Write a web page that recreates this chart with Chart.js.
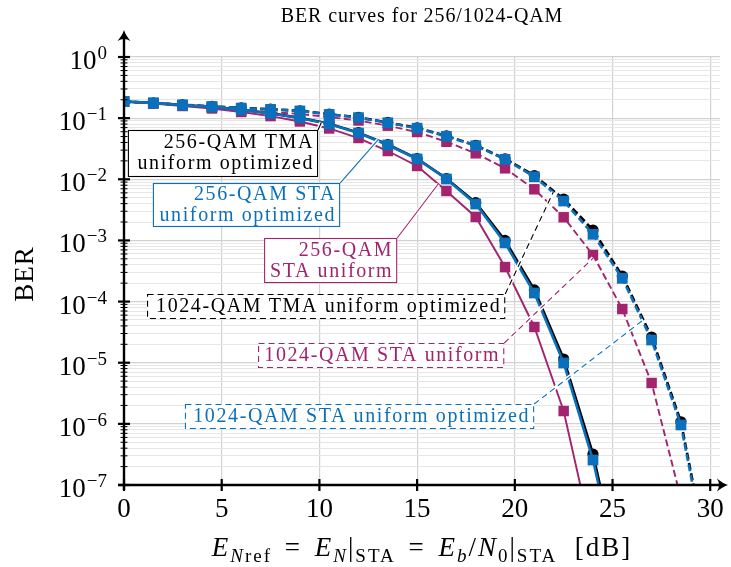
<!DOCTYPE html>
<html>
<head>
<meta charset="utf-8">
<script src="https://cdn.jsdelivr.net/npm/chart.js@4"></script>
<style>
  html, body { margin: 0; padding: 0; background: #fff; }
  #wrap { width: 731px; height: 567px; position: relative; }
</style>
</head>
<body>
<div id="wrap"><canvas id="ber"></canvas></div>
<script>
// Eb/N0 grid of the simulation points [dB]
var snr = [0, 1.5, 3, 4.5, 6, 7.5, 9, 10.5, 12, 13.5, 15, 16.5, 18, 19.5, 21, 22.5, 24, 25.5, 27, 28.5, 30];

// 256-QAM curves
var ber256TmaOpt = [0.187, 0.177, 0.164, 0.152, 0.137, 0.120, 0.101, 0.081, 0.058, 0.037, 0.0218, 0.0103, 0.00415, 0.00100, 1.55e-4, 1.15e-5, 3.2e-7, 2.4e-9];
var ber256StaOpt = [0.187, 0.177, 0.164, 0.152, 0.136, 0.119, 0.1005, 0.080, 0.057, 0.0364, 0.0215, 0.0101, 0.00394, 9.1e-4, 1.38e-4, 9.9e-6, 2.56e-7, 1.9e-9];
var ber256StaUni = [0.187, 0.174, 0.158, 0.144, 0.126, 0.108, 0.0882, 0.0678, 0.0473, 0.029, 0.0165, 0.00643, 0.00242, 3.67e-4, 3.84e-5, 1.62e-6, 1.2e-8];

// 1024-QAM curves
var ber1024TmaOpt = [0.187, 0.177, 0.165, 0.156, 0.147, 0.140, 0.132, 0.116, 0.103, 0.085, 0.0695, 0.0512, 0.036, 0.0216, 0.0115, 0.00475, 0.00148, 2.62e-4, 2.63e-5, 1.08e-6, 4e-9];
var ber1024StaOpt = [0.187, 0.177, 0.164, 0.155, 0.146, 0.139, 0.131, 0.115, 0.102, 0.084, 0.0684, 0.0504, 0.0354, 0.0212, 0.0110, 0.00441, 0.00126, 2.40e-4, 2.35e-5, 9.6e-7, 3.4e-9];
var ber1024StaUni = [0.187, 0.174, 0.161, 0.149, 0.136, 0.126, 0.117, 0.104, 0.0915, 0.0752, 0.0593, 0.0411, 0.0266, 0.0151, 0.00686, 0.00239, 5.78e-4, 7.55e-5, 4.66e-6, 6e-8];

// axis ticks
var xTicks = [0, 5, 10, 15, 20, 25, 30];
var yDecades = [-7, -6, -5, -4, -3, -2, -1, 0];

var BLUE = '#0b70bb';
var MAGENTA = '#a3236f';
var BLACK = '#000000';
var SERIF = '"Liberation Serif", "DejaVu Serif", serif';

function pairs(vals) {
  return vals.map(function (v, i) { return { x: snr[i], y: v }; });
}

function yTickValues() {
  var out = [];
  yDecades.forEach(function (e) {
    if (e === 0) { out.push(1); return; }
    for (var m = 1; m <= 9; m++) out.push(m * Math.pow(10, e));
  });
  return out;
}

function isDecade(v) {
  var l = Math.log10(v);
  return Math.abs(l - Math.round(l)) < 1e-6;
}

// text boxes with their pointer lines (box: x0, yTop, x1, yBottom in data units)
var notes = [
  { lines: ['256-QAM TMA', 'uniform optimized'], color: BLACK, dashed: false, box: [0.2, 0.064, 9.93, 0.0109], target: [10.1, 0.085] },
  { lines: ['256-QAM STA', 'uniform optimized'], color: BLUE, dashed: false, box: [1.48, 0.00869, 11.06, 0.00166], target: [13.0, 0.044] },
  { lines: ['256-QAM', 'STA uniform'], color: MAGENTA, dashed: false, box: [7.17, 0.001096, 13.98, 0.000201], target: [16.08, 0.00838] },
  { lines: ['1024-QAM TMA uniform optimized'], color: BLACK, dashed: true, box: [1.18, 1.33e-4, 19.51, 5.19e-5], target: [21.97, 0.0062] },
  { lines: ['1024-QAM STA uniform'], color: MAGENTA, dashed: true, box: [6.86, 2.10e-5, 19.46, 8.18e-6], target: [24.01, 5.15e-4] },
  { lines: ['1024-QAM STA uniform optimized'], color: BLUE, dashed: true, box: [3.12, 2.11e-6, 20.99, 8.24e-7], target: [26.57, 5.0e-5] }
];

var xTitleParts = [
  ['E', 'mi'], ['N', 'si'], ['ref', 's'], [' = ', 'm'], ['E', 'mi'], ['N', 'si'], ['|', 'm'], ['STA', 's'],
  [' = ', 'm'], ['E', 'mi'], ['b', 'si'], ['/', 'm'], ['N', 'mi'], ['0', 's'], ['|', 'm'], ['STA', 's'], ['  [dB]', 'm']
];

function spacing(ctx, px) {
  if ('letterSpacing' in ctx) ctx.letterSpacing = px + 'px';
}

function arrowHead(ctx, x, y, angle) {
  ctx.save();
  ctx.translate(x, y);
  ctx.rotate(angle);
  ctx.beginPath();
  ctx.moveTo(0, 0);
  ctx.quadraticCurveTo(-5, -1.5, -11, -6.5);
  ctx.quadraticCurveTo(-7, 0, -11, 6.5);
  ctx.quadraticCurveTo(-5, 1.5, 0, 0);
  ctx.closePath();
  ctx.fill();
  ctx.restore();
}

var overlay = {
  id: 'overlay',
  afterDraw: function (chart) {
    var ctx = chart.ctx;
    var xs = chart.scales.x;
    var ys = chart.scales.y;
    var a = chart.chartArea;

    ctx.save();

    // annotation boxes
    notes.forEach(function (n) {
      var bx0 = xs.getPixelForValue(n.box[0]);
      var by0 = ys.getPixelForValue(n.box[1]);
      var bx1 = xs.getPixelForValue(n.box[2]);
      var by1 = ys.getPixelForValue(n.box[3]);
      var tx = xs.getPixelForValue(n.target[0]);
      var ty = ys.getPixelForValue(n.target[1]);

      ctx.setLineDash([]);
      ctx.strokeStyle = '#ffffff';
      ctx.lineWidth = 4;
      ctx.beginPath(); ctx.moveTo(bx1, by0); ctx.lineTo(tx, ty); ctx.stroke();
      ctx.strokeStyle = n.color;
      ctx.lineWidth = 1.1;
      ctx.setLineDash(n.dashed ? [6, 4] : []);
      ctx.beginPath(); ctx.moveTo(bx1, by0); ctx.lineTo(tx, ty); ctx.stroke();

      ctx.fillStyle = '#ffffff';
      ctx.fillRect(bx0, by0, bx1 - bx0, by1 - by0);
      ctx.setLineDash(n.dashed ? [6, 4] : []);
      ctx.strokeRect(bx0 + 0.5, by0 + 0.5, bx1 - bx0 - 1, by1 - by0 - 1);
      ctx.setLineDash([]);

      ctx.fillStyle = n.color;
      ctx.font = '20px ' + SERIF;
      spacing(ctx, 1.6);
      ctx.textAlign = 'right';
      ctx.textBaseline = 'alphabetic';
      var h = by1 - by0;
      var first = by0 + (h - n.lines.length * 21) / 2 + 16;
      n.lines.forEach(function (t, i) {
        ctx.fillText(t, bx1 - 4, first + i * 21);
      });
      spacing(ctx, 0);
    });

    // axes with arrows
    ctx.strokeStyle = '#000';
    ctx.fillStyle = '#000';
    ctx.lineWidth = 2.4;
    ctx.beginPath();
    ctx.moveTo(a.left - 6, a.bottom);
    ctx.lineTo(a.right + 3, a.bottom);
    ctx.stroke();
    arrowHead(ctx, a.right + 8, a.bottom, 0);
    ctx.beginPath();
    ctx.moveTo(a.left, a.bottom + 5);
    ctx.lineTo(a.left, a.top - 22);
    ctx.stroke();
    arrowHead(ctx, a.left, a.top - 27, -Math.PI / 2);

    // ticks
    yTickValues().forEach(function (v) {
      var py = ys.getPixelForValue(v);
      var major = isDecade(v);
      ctx.lineWidth = major ? 2.2 : 1;
      var half = major ? 6 : 3.5;
      ctx.beginPath();
      ctx.moveTo(a.left - half, py);
      ctx.lineTo(a.left + half, py);
      ctx.stroke();
    });
    xTicks.forEach(function (v) {
      var px = xs.getPixelForValue(v);
      ctx.lineWidth = 2.2;
      ctx.beginPath();
      ctx.moveTo(px, a.bottom - 6);
      ctx.lineTo(px, a.bottom + 6);
      ctx.stroke();
    });

    // tick labels
    ctx.fillStyle = '#000';
    ctx.textBaseline = 'alphabetic';
    yDecades.forEach(function (e) {
      var py = ys.getPixelForValue(Math.pow(10, e));
      var exp = e === 0 ? '0' : '\u2212' + (-e);
      var right = a.left - 17;
      ctx.textAlign = 'right';
      ctx.font = '19px ' + SERIF;
      var ew = ctx.measureText(exp).width;
      ctx.fillText(exp, right, py + 2);
      ctx.font = '27px ' + SERIF;
      ctx.fillText('10', right - ew - 1, py + 12);
    });
    ctx.textAlign = 'center';
    ctx.font = '27px ' + SERIF;
    xTicks.forEach(function (v) {
      ctx.fillText(String(v), xs.getPixelForValue(v), a.bottom + 32);
    });

    // axis titles
    ctx.save();
    ctx.translate(33, (a.top + a.bottom) / 2 + 3);
    ctx.rotate(-Math.PI / 2);
    ctx.textAlign = 'center';
    ctx.font = '27px ' + SERIF;
    spacing(ctx, 1);
    ctx.fillText('BER', 0, 0);
    spacing(ctx, 0);
    ctx.restore();

    var fonts = {
      m: '27px ' + SERIF, mi: 'italic 27px ' + SERIF,
      s: '19px ' + SERIF, si: 'italic 19px ' + SERIF
    };
    var gap = function (p) { return p[0] === ' = ' ? 8 : 0; };
    spacing(ctx, 2);
    var total = 0;
    xTitleParts.forEach(function (p) {
      ctx.font = fonts[p[1]];
      total += ctx.measureText(p[0]).width + gap(p);
    });
    var cx = (a.left + a.right) / 2 - total / 2;
    var base = a.bottom + 71;
    ctx.textAlign = 'left';
    xTitleParts.forEach(function (p) {
      ctx.font = fonts[p[1]];
      var sub = p[1] === 's' || p[1] === 'si';
      cx += gap(p) / 2;
      ctx.fillText(p[0], cx, base + (sub ? 6 : 0));
      cx += ctx.measureText(p[0]).width + gap(p) / 2;
    });

    // title
    spacing(ctx, 0.9);
    ctx.textAlign = 'center';
    ctx.font = '20px ' + SERIF;
    ctx.fillText('BER curves for 256/1024-QAM', (a.left + a.right) / 2, 22);
    spacing(ctx, 0);

    ctx.restore();
  }
};

function series(label, vals, color, dashed, style, radius, width, order) {
  return {
    label: label,
    data: pairs(vals),
    borderColor: color,
    backgroundColor: color,
    pointBackgroundColor: color,
    pointBorderWidth: 0,
    pointStyle: style,
    pointRadius: radius,
    borderWidth: width,
    borderDash: dashed ? [7, 3.5] : [],
    tension: 0,
    order: order
  };
}

new Chart(document.getElementById('ber'), {
  type: 'line',
  data: {
    datasets: [
      series('1024-QAM STA uniform optimized', ber1024StaOpt, BLUE, true, 'rect', 7.6, 2.6, 1),
      series('256-QAM STA uniform optimized', ber256StaOpt, BLUE, false, 'rect', 7.6, 2.6, 2),
      series('1024-QAM STA uniform', ber1024StaUni, MAGENTA, true, 'rect', 7.4, 1.9, 3),
      series('256-QAM STA uniform', ber256StaUni, MAGENTA, false, 'rect', 7.4, 1.9, 4),
      series('1024-QAM TMA uniform optimized', ber1024TmaOpt, BLACK, true, 'circle', 5.6, 2.6, 5),
      series('256-QAM TMA uniform optimized', ber256TmaOpt, BLACK, false, 'circle', 5.6, 2.6, 6)
    ]
  },
  options: {
    responsive: true,
    maintainAspectRatio: false,
    animation: false,
    layout: { padding: { left: 124, right: 11, top: 57, bottom: 82 } },
    plugins: {
      legend: { display: false },
      tooltip: { enabled: false },
      title: { display: false }
    },
    scales: {
      x: {
        type: 'linear',
        min: 0,
        max: 30.5,
        afterBuildTicks: function (s) {
          s.ticks = xTicks.map(function (v) { return { value: v }; });
        },
        ticks: { display: false },
        grid: { color: '#d2d2d2', lineWidth: 1.2, drawTicks: false },
        border: { display: false }
      },
      y: {
        type: 'logarithmic',
        min: 1e-7,
        max: 1,
        afterBuildTicks: function (s) {
          s.ticks = yTickValues().map(function (v) { return { value: v, major: isDecade(v) }; });
        },
        ticks: { display: false },
        grid: {
          drawTicks: false,
          color: function (c) { return isDecade(c.tick.value) ? '#d2d2d2' : '#e6e6e6'; },
          lineWidth: function (c) { return isDecade(c.tick.value) ? 1.2 : 1; }
        },
        border: { display: false }
      }
    }
  },
  plugins: [overlay]
});
</script>
</body>
</html>
